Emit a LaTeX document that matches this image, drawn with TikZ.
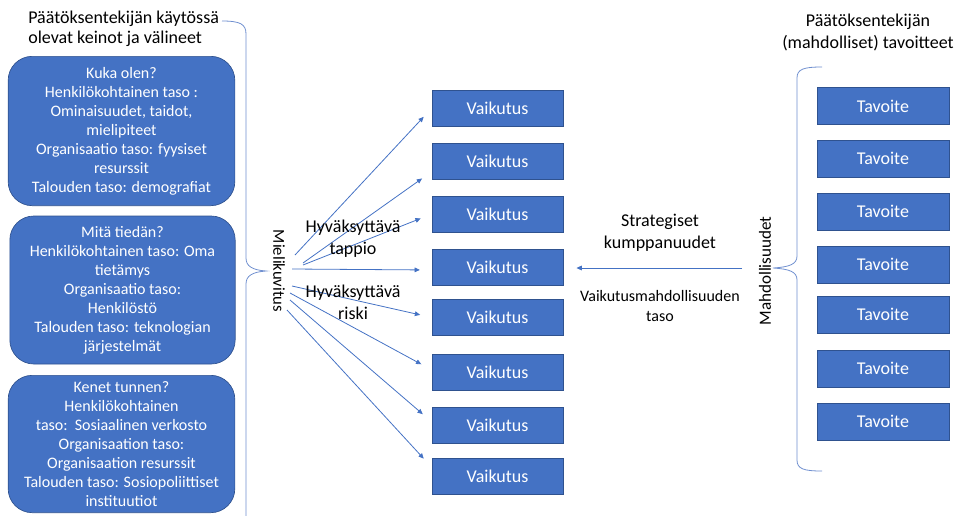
\documentclass[tikz,border=0pt]{standalone}
\usepackage{fontspec}
\setmainfont{Carlito}
\usetikzlibrary{arrows.meta, positioning, calc}
\definecolor{boxblue}{HTML}{4472C4}
\definecolor{boxedge}{HTML}{2F528F}
\definecolor{linkblue}{HTML}{4472C4}
\definecolor{bracecol}{HTML}{6F8FCF}

\begin{document}
\begin{tikzpicture}[
    x=0.75pt, y=-0.75pt,
    meansbox/.style={rectangle, rounded corners=18pt, fill=boxblue, draw=boxedge, line width=0.5pt, text=white, align=center, inner sep=0pt, font=\fontsize{12}{14.25}\selectfont},
    effectbox/.style={rectangle, fill=boxblue, draw=boxedge, line width=0.4pt, text=white, minimum width=98pt, minimum height=27pt, inner sep=0pt, font=\fontsize{13.5}{15}\selectfont},
    goalbox/.style={effectbox, minimum width=99pt, minimum height=28pt},
    plaintext/.style={align=center, inner sep=0pt, font=\fontsize{13.5}{16.5}\selectfont},
    arrow/.style={-{Triangle[length=4pt, width=3.5pt]}, color=linkblue, line width=0.6pt},
    bracket/.style={draw=bracecol, line width=0.6pt}
]
\useasboundingbox (0,0) rectangle (957,515);

% Means of the decision maker
\node[plaintext, align=left, anchor=west, font=\fontsize{13.5}{15}\selectfont] (meanstitle) at (28,29) {Päätöksentekijän käytössä\\olevat keinot ja välineet};
\node[meansbox, minimum width=170pt, minimum height=112pt] (who) at (121.5,131) {Kuka olen?\\Henkilökohtainen taso :\\Ominaisuudet, taidot,\\mielipiteet\\Organisaatio taso: fyysiset\\resurssit\\Talouden taso: demografiat};
\node[meansbox, minimum width=169pt, minimum height=111pt] (what) at (122.5,290) {Mitä tiedän?\\Henkilökohtainen taso: Oma\\tietämys\\Organisaatio taso:\\Henkilöstö\\Talouden taso: teknologian\\järjestelmät};
\node[meansbox, minimum width=170pt, minimum height=103pt] (whom) at (121.5,444) {Kenet tunnen?\\Henkilökohtainen\\taso:\ \ Sosiaalinen verkosto\\Organisaation taso:\\Organisaation resurssit\\Talouden taso: Sosiopoliittiset\\instituutiot};

% Left brace
\draw[bracket] (222,21) .. controls (240,21) and (246,24) .. (246,34) -- (246,258)
    .. controls (246,266) and (252,270) .. (266,271)
    .. controls (252,272) and (246,276) .. (246,284) -- (246,520);
\node[plaintext, rotate=-90, font=\fontsize{12.5}{14}\selectfont] (imagination) at (279,271) {Mielikuvitus};

% Effects
\foreach \i/\y in {1/108, 2/161.5, 3/214, 4/267, 5/317.5, 6/372, 7/425, 8/476.5} {
    \node[effectbox] (v\i) at (497.5,\y) {Vaikutus};
}

% Connections from imagination
\foreach \i/\sx/\sy/\dy in {1/295/255/0, 2/303/263/10, 3/303/265/0, 4/292/269/3, 5/292/286/0, 6/290/293/-2, 7/290/300/-3, 8/287/310/-9} {
    \coordinate (m\i) at (\sx,\sy);
    \draw[arrow, shorten >=9pt] (m\i) -- ($(v\i.west)+(0,\dy)$);
}
\node[plaintext] (loss) at (353,239) {Hyväksyttävä\\tappio};
\node[plaintext] (risk) at (353,302) {Hyväksyttävä\\riski};

% Goals
\node[plaintext] (goaltitle) at (868,32) {Päätöksentekijän\\(mahdolliset) tavoitteet};
\foreach \i/\y in {1/106, 2/158.5, 3/211.5, 4/264.5, 5/314.5, 6/368.5, 7/421.5} {
    \node[goalbox] (t\i) at (883,\y) {Tavoite};
}

% Right brace
\draw[bracket] (822,67) .. controls (804,67) and (797,69) .. (797,78) -- (797,256)
    .. controls (797,264) and (790,267) .. (773,268)
    .. controls (790,269) and (797,272) .. (797,280) -- (797,460)
    .. controls (797,469) and (804,471) .. (822,471);
\node[plaintext, rotate=90, font=\fontsize{12.8}{14}\selectfont] (chances) at (765,271) {Mahdollisuudet};

% Partnerships
\coordinate (mtip) at (742,268);
\draw[arrow, shorten >=10pt] (mtip) -- (mtip -| v4.east);
\node[plaintext] (partners) at (660,233) {Strategiset\\kumppanuudet};
\node[plaintext, font=\fontsize{12}{15}\selectfont] (level) at (660,306) {Vaikutusmahdollisuuden\\taso};

\end{tikzpicture}
\end{document}
